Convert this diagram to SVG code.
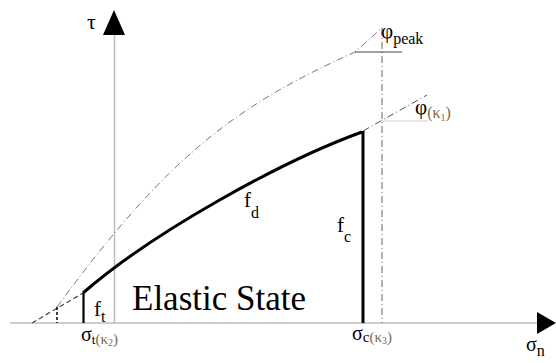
<svg xmlns="http://www.w3.org/2000/svg" width="556" height="363" viewBox="0 0 556 363" font-family="'Liberation Serif', 'DejaVu Serif', 'Times New Roman', serif">
<style>
  text { font-family: "Liberation Serif", "DejaVu Serif", "Times New Roman", serif; fill: #000; }
  .axis { stroke: #bdbdbd; stroke-width: 1.5; fill: none; }
  .arrow { fill: #000; }
  .thick { stroke: #000; stroke-width: 3; fill: none; stroke-linecap: butt; }
  .dashdot { stroke: #777; stroke-width: 1; fill: none; stroke-dasharray: 7 3 1 3; }
  .dash { stroke: #444; stroke-width: 1.2; fill: none; stroke-dasharray: 5 3; }
  .brown { fill: #7d6a4a; }
</style>
<rect width="556" height="363" fill="#fff"/>

<g id="axes">
  <line class="axis" x1="10" y1="323" x2="538" y2="323"/>
  <line class="axis" x1="114.5" y1="34" x2="114.5" y2="323"/>
  <polygon class="arrow" points="103,35 125,35 114,10"/>
  <polygon class="arrow" points="537,312 537,334 556,323"/>
</g>

<g id="connectors">
  <path class="dashdot" d="M57,307 C167,157 235,106 355,52 L382,28"/>
  <line class="dashdot" x1="382" y1="28" x2="382" y2="323" style="stroke:#666"/>
  <line x1="355" y1="52" x2="402" y2="52" stroke="#444" stroke-width="1"/>
  <line class="dashdot" x1="363" y1="131" x2="427" y2="95" style="stroke:#555"/>
  <line x1="382" y1="121" x2="428" y2="121" stroke="#d0d0d0" stroke-width="1.2"/>
  <line class="dash" x1="32" y1="323" x2="83" y2="293"/>
  <line x1="57" y1="307" x2="57" y2="323" stroke="#000" stroke-width="1.5" stroke-dasharray="3 2"/>
  <line x1="83.5" y1="293" x2="83.5" y2="323" stroke="#000" stroke-width="2.2"/>
  <path class="thick" d="M83,293 C153,232 282,161 362,132"/>
  <line class="thick" x1="363" y1="131" x2="363" y2="323"/>
</g>

<g id="labels">
  <text x="87" y="29" font-size="22">τ</text>
  <text x="381" y="38" font-size="21">φ<tspan font-size="16" dy="6">peak</tspan></text>
  <text x="415" y="114" font-size="21">φ<tspan class="brown" font-size="16" dy="4">(κ</tspan><tspan class="brown" font-size="10" dy="3">1</tspan><tspan class="brown" font-size="16" dy="-3">)</tspan></text>
  <text x="244" y="207" font-size="21">f<tspan font-size="16" dy="11">d</tspan></text>
  <text x="337" y="232" font-size="21">f<tspan font-size="16" dy="10">c</tspan></text>
  <text x="94" y="316" font-size="21">f<tspan font-size="16" dy="6">t</tspan></text>
  <text id="elastic" x="132" y="310" font-size="35">Elastic State</text>
  <text x="81" y="341" font-size="20">σ<tspan font-size="13" dy="3">t</tspan><tspan class="brown" font-size="15">(κ</tspan><tspan class="brown" font-size="10" dy="2">2</tspan><tspan class="brown" font-size="15" dy="-2">)</tspan></text>
  <text x="352" y="340" font-size="20">σ<tspan font-size="15" dy="2">c</tspan><tspan class="brown" font-size="15">(κ</tspan><tspan class="brown" font-size="10" dy="2">3</tspan><tspan class="brown" font-size="15" dy="-2">)</tspan></text>
  <text x="526" y="351" font-size="20">σ<tspan font-size="16" dy="5">n</tspan></text>
</g>
</svg>
